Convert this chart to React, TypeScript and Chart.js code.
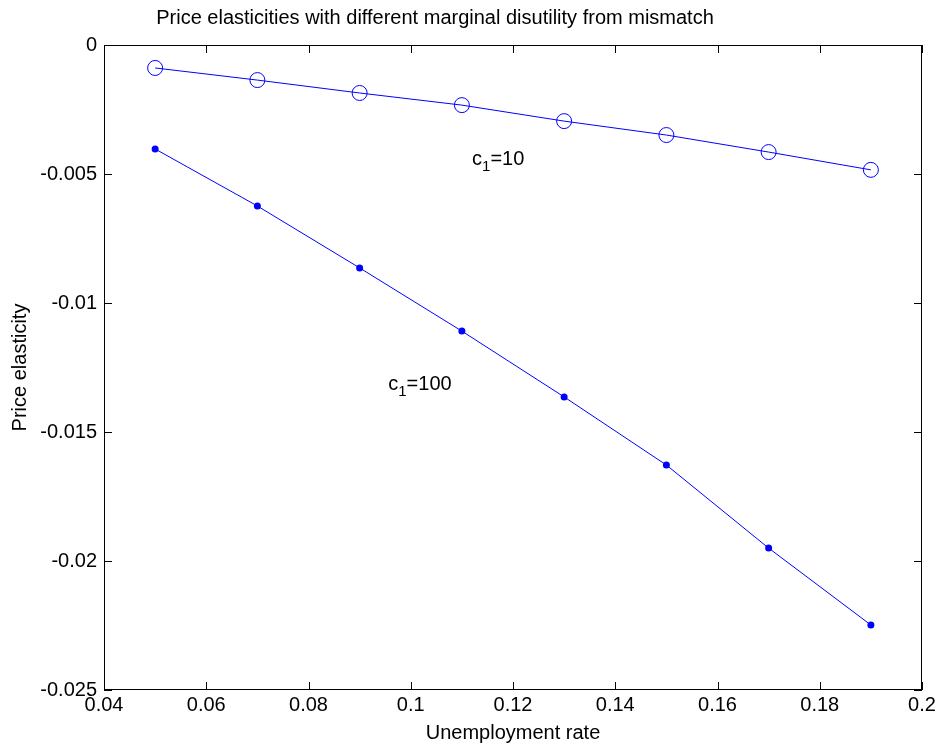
import React, { useEffect, useRef } from "react";
import { Chart, registerables } from "chart.js";

Chart.register(...registerables);

const unemploymentRates = [0.05, 0.07, 0.09, 0.11, 0.13, 0.15, 0.17, 0.19];
const elasticityC10 = [-0.00089, -0.00136, -0.00186, -0.00233, -0.00295, -0.00349, -0.00415, -0.00484];
const elasticityC100 = [-0.00403, -0.00624, -0.00864, -0.01109, -0.01364, -0.01628, -0.0195, -0.02248];
const xTicks = [0.04, 0.06, 0.08, 0.1, 0.12, 0.14, 0.16, 0.18, 0.2];
const yTicks = [0, -0.005, -0.01, -0.015, -0.02, -0.025];
const chartTitle = "Price elasticities with different marginal disutility from mismatch";
const xTitle = "Unemployment rate";
const yTitle = "Price elasticity";
const annotations = [
  { x: 0.112, y: -0.00438, base: "c", sub: "1", rest: "=10" },
  { x: 0.0956, y: -0.0131, base: "c", sub: "1", rest: "=100" },
];

const FONT = "Arial, 'Liberation Sans', Helvetica, sans-serif";
const FS = 20;

const decorPlugin = {
  id: "decor",
  afterDraw(chart: any) {
    const ctx = chart.ctx;
    const { left, right, top, bottom } = chart.chartArea;
    const xs = chart.scales.x;
    const ys = chart.scales.y;
    ctx.save();
    ctx.strokeStyle = "#000";
    ctx.lineWidth = 1;
    ctx.strokeRect(left + 0.5, top + 0.5, right - left - 1, bottom - top - 1);
    const tl = 8;
    ctx.beginPath();
    xTicks.forEach((v) => {
      const px = Math.round(xs.getPixelForValue(v)) + 0.5;
      ctx.moveTo(px, bottom);
      ctx.lineTo(px, bottom - tl);
      ctx.moveTo(px, top);
      ctx.lineTo(px, top + tl);
    });
    yTicks.forEach((v) => {
      const py = Math.round(ys.getPixelForValue(v)) + 0.5;
      ctx.moveTo(left, py);
      ctx.lineTo(left + tl, py);
      ctx.moveTo(right, py);
      ctx.lineTo(right - tl, py);
    });
    ctx.stroke();

    ctx.fillStyle = "#000";
    ctx.font = `${FS}px ${FONT}`;
    ctx.textAlign = "center";
    ctx.textBaseline = "middle";
    ctx.fillText(chartTitle, (left + right) / 2 - 78, 18);
    ctx.fillText(xTitle, (left + right) / 2, 733);
    ctx.save();
    ctx.translate(20, (top + bottom) / 2);
    ctx.rotate(-Math.PI / 2);
    ctx.fillText(yTitle, 0, 0);
    ctx.restore();

    ctx.textAlign = "left";
    ctx.textBaseline = "alphabetic";
    annotations.forEach((a) => {
      let px = xs.getPixelForValue(a.x);
      const py = ys.getPixelForValue(a.y) + 7;
      ctx.font = `${FS}px ${FONT}`;
      ctx.fillText(a.base, px, py);
      px += ctx.measureText(a.base).width;
      ctx.font = `15px ${FONT}`;
      ctx.fillText(a.sub, px, py + 6);
      px += ctx.measureText(a.sub).width;
      ctx.font = `${FS}px ${FONT}`;
      ctx.fillText(a.rest, px, py);
    });
    ctx.restore();
  },
};

const fmt = (v: number) => String(parseFloat(Number(v).toFixed(4)));

export default function App() {
  const ref = useRef<HTMLCanvasElement>(null);
  useEffect(() => {
    if (!ref.current) return;
    const chart = new Chart(ref.current, {
      type: "line",
      data: {
        datasets: [
          {
            label: "c1=10",
            data: unemploymentRates.map((x, i) => ({ x, y: elasticityC10[i] })),
            borderColor: "#0000ff",
            borderWidth: 1,
            pointStyle: "circle",
            pointRadius: 7.5,
            pointBorderColor: "#0000ff",
            pointBackgroundColor: "rgba(0,0,0,0)",
            pointBorderWidth: 1,
            tension: 0,
          },
          {
            label: "c1=100",
            data: unemploymentRates.map((x, i) => ({ x, y: elasticityC100[i] })),
            borderColor: "#0000ff",
            borderWidth: 1,
            pointStyle: "circle",
            pointRadius: 3.5,
            pointBorderColor: "#0000ff",
            pointBackgroundColor: "#0000ff",
            pointBorderWidth: 0,
            tension: 0,
          },
        ],
      },
      options: {
        animation: false,
        responsive: false,
        maintainAspectRatio: false,
        layout: { padding: { top: 45, right: 20, bottom: 0, left: 0 } },
        plugins: { legend: { display: false }, title: { display: false }, tooltip: { enabled: false } },
        scales: {
          x: {
            type: "linear",
            min: 0.04,
            max: 0.2,
            afterFit: (s: any) => { s.height = 60; },
            afterBuildTicks: (s: any) => { s.ticks = xTicks.map((v) => ({ value: v })); },
            grid: { display: false, drawTicks: false },
            border: { display: false },
            ticks: { padding: 3, color: "#000", font: { size: FS, family: FONT }, maxRotation: 0, autoSkip: false, callback: (v: any) => fmt(v) },
          },
          y: {
            type: "linear",
            min: -0.025,
            max: 0,
            afterFit: (s: any) => { s.width = 104; },
            afterBuildTicks: (s: any) => { s.ticks = yTicks.map((v) => ({ value: v })); },
            grid: { display: false, drawTicks: false },
            border: { display: false },
            ticks: { padding: 7, color: "#000", font: { size: FS, family: FONT }, autoSkip: false, callback: (v: any) => fmt(v) },
          },
        },
      },
      plugins: [decorPlugin],
    } as any);
    return () => chart.destroy();
  }, []);
  return (
    <div style={{ position: "absolute", left: 0, top: 0, width: 942, height: 750, background: "#fff" }}>
      <canvas ref={ref} width={942} height={750} style={{ width: 942, height: 750 }} />
    </div>
  );
}
